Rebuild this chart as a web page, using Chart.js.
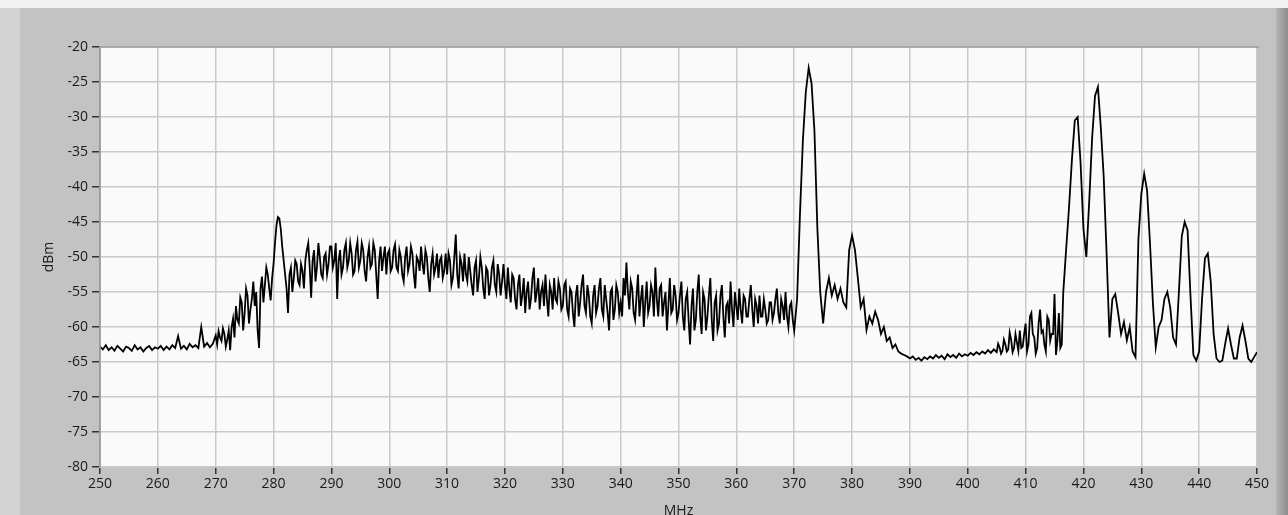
<!DOCTYPE html>
<html lang="en">
<head>
<meta charset="UTF-8">
<title>Spectrum</title>
<script src="https://cdn.jsdelivr.net/npm/chart.js"></script>
<style>
  html, body { margin: 0; padding: 0; background: #f2f2f2; overflow: hidden; }
  #frame { position: absolute; left: 0; top: 8px; width: 1288px; height: 515px; background: #c3c3c3; }
  #leftStrip { position: absolute; left: 0; top: 8px; width: 20px; height: 515px; background: #d3d3d3; }
  #rightStrip { position: absolute; left: 1276px; top: 8px; width: 12px; height: 515px;
                background: linear-gradient(to right, #b4b4b4, #8e8e8e); }
  #wrap { position: absolute; left: 0; top: 0; width: 1288px; height: 522px; }
</style>
</head>
<body>
<div id="frame"></div>
<div id="leftStrip"></div>
<div id="rightStrip"></div>
<div id="wrap"><canvas id="spec"></canvas></div>

<script>
// spectrum samples, 0.5 MHz apart starting at 250 MHz
const startMHz = 250;
const stepMHz = 0.5;

// 250 - 299.5 MHz
const band250 = [
  -62.8,-63.2,-62.6,-63.3,-62.9,-63.4,-62.7,-63.1,-63.5,-62.8,-63.0,-63.4,-62.6,-63.2,-62.9,-63.5,-63.0,-62.7,-63.3,-62.9,
  -63.1,-62.7,-63.3,-62.8,-63.2,-62.6,-63.0,-61.3,-63.1,-62.7,-63.2,-62.4,-62.9,-62.6,-63.0,-60.0,-62.8,-62.3,-62.9,-62.4,
  -61.2,-60.6,-62.0,-61.0,-61.8,-63.3,-58.8,-57.0,-59.5,-56.5,-58.0,-55.5,-57.5,-53.5,-55.0,-63.0,-52.8,-54.0,-52.5,-56.2,
  -51.0,-45.5,-44.5,-48.5,-52.5,-58.0,-51.5,-53.0,-51.0,-54.0,-52.0,-50.5,-48.0,-55.8,-49.0,-51.5,-50.0,-53.0,-49.5,-51.0,
  -48.5,-50.5,-56.0,-49.0,-51.5,-48.0,-50.5,-49.5,-52.0,-47.8,-50.5,-49.0,-53.5,-48.5,-51.0,-49.0,-56.0,-48.5,-50.0,-52.5
];

// 300 - 349.5 MHz
const band300 = [
  -49.0,-51.5,-48.2,-52.0,-50.0,-53.5,-48.5,-51.0,-49.5,-54.5,-50.5,-48.5,-52.5,-50.0,-55.0,-49.5,-51.5,-53.0,-50.0,-52.0,
  -52.5,-50.5,-53.0,-46.8,-54.5,-51.0,-49.5,-53.5,-52.0,-55.5,-50.5,-53.0,-51.5,-56.0,-52.0,-54.0,-50.5,-55.0,-52.5,-53.5,
  -54.0,-51.5,-56.5,-53.0,-57.5,-52.5,-55.5,-58.0,-53.5,-56.0,-51.5,-55.0,-57.5,-54.0,-52.5,-58.5,-55.0,-53.0,-56.5,-54.5,
  -57.0,-53.5,-58.5,-55.0,-60.0,-54.0,-56.5,-52.5,-58.0,-55.5,-59.5,-54.0,-57.0,-53.0,-58.5,-56.0,-60.5,-54.5,-57.5,-55.0,
  -56.5,-53.0,-50.8,-57.5,-54.5,-59.0,-52.5,-56.0,-60.0,-53.5,-57.0,-55.0,-51.5,-58.5,-54.0,-56.5,-60.5,-53.0,-57.5,-55.5
];

// 350 - 399.5 MHz
const band350 = [
  -58.0,-53.5,-60.5,-55.0,-62.5,-54.5,-59.0,-52.5,-61.0,-56.0,-58.5,-53.0,-62.0,-55.5,-59.5,-54.0,-61.5,-56.5,-53.5,-60.0,
  -57.0,-54.5,-59.5,-56.0,-58.5,-54.0,-60.0,-57.0,-55.5,-58.5,-57.5,-59.0,-56.5,-58.0,-54.5,-59.5,-57.0,-55.0,-60.0,-56.5,
  -60.5,-56.0,-43.8,-33.4,-26.5,-23.0,-25.2,-32.0,-45.8,-55.0,-59.5,-55.0,-53.0,-55.5,-54.0,-56.0,-54.5,-56.5,-57.2,-49.0,
  -46.9,-49.0,-53.0,-57.2,-56.0,-60.4,-58.5,-59.5,-57.8,-59.0,-61.0,-60.0,-62.0,-61.5,-63.0,-62.5,-63.5,-63.8,-64.0,-64.2,
  -64.5,-64.2,-64.7,-64.4,-64.8,-64.3,-64.6,-64.2,-64.5,-64.0,-64.4,-64.1,-64.6,-63.9,-64.3,-64.0,-64.4,-63.8,-64.2,-63.9
];

// 400 - 450 MHz
const band400 = [
  -64.1,-63.7,-64.0,-63.6,-63.9,-63.5,-63.8,-63.3,-63.7,-63.2,-63.6,-62.9,-63.4,-62.5,-63.2,-61.8,-63.0,-62.2,-60.5,-62.8,
  -59.5,-62.5,-58.0,-61.5,-63.0,-57.5,-60.5,-63.5,-59.0,-61.0,-55.3,-62.0,-63.0,-55.2,-49.0,-43.0,-36.2,-30.5,-30.0,-36.5,
  -46.0,-50.0,-42.0,-33.0,-27.0,-25.7,-31.5,-38.5,-49.5,-61.5,-56.0,-55.3,-58.0,-61.0,-59.3,-61.9,-60.0,-63.5,-64.3,-47.5,
  -41.0,-38.1,-40.5,-48.0,-56.5,-62.9,-60.0,-59.0,-56.0,-55.0,-57.2,-61.5,-62.5,-55.0,-47.0,-45.0,-46.2,-55.5,-64.0,-64.8,
  -63.5,-56.0,-50.2,-49.5,-53.5,-61.0,-64.5,-65.0,-64.8,-62.4,-60.2,-62.5,-64.5,-64.5,-61.5,-59.8,-62.0,-64.5,-65.0,-64.3,
  -63.6
];

// extra samples in the noisy parts, halfway between the ones above
const fineStartA = 270.25;   // 270.25 - 369.75 MHz
const fineA = [
  -62.5,-61.5,-60.2,-62.8,-60.5,-60.0,-61.5,-59.0,-55.8,-60.5,-54.5,-59.5,-56.0,-57.0,-60.5,-54.5,-56.5,-51.5,-54.5,-53.0,
  -48.0,-44.3,-46.0,-50.5,-54.5,-52.5,-55.0,-50.5,-53.5,-51.0,-54.5,-49.0,-51.5,-50.5,-53.5,-48.0,-52.5,-50.0,-52.5,-48.5,
  -51.5,-48.0,-50.5,-52.5,-49.0,-51.5,-48.0,-52.5,-49.0,-51.5,-48.0,-52.0,-50.0,-51.5,-48.0,-52.5,-50.5,-52.0,-48.5,-49.5,
  -52.0,-49.0,-51.5,-49.0,-52.5,-50.0,-52.0,-48.5,-52.5,-50.0,-52.0,-51.0,-49.0,-53.0,-51.0,-52.5,-49.5,-50.5,-53.0,-49.5,
  -49.5,-54.0,-50.0,-52.5,-50.0,-53.5,-52.5,-50.0,-54.0,-51.5,-55.0,-50.0,-54.5,-51.5,-55.5,-51.5,-54.0,-51.0,-55.5,-51.0,
  -56.0,-54.5,-52.5,-56.0,-54.0,-57.0,-53.0,-55.0,-57.5,-53.0,-56.5,-53.0,-55.0,-57.0,-56.0,-54.0,-57.5,-56.0,-53.5,-57.5,
  -54.0,-57.5,-54.5,-58.0,-55.5,-58.5,-54.0,-57.0,-54.0,-58.5,-55.5,-58.0,-54.5,-57.5,-54.0,-58.0,-55.0,-59.0,-54.0,-58.0,
  -58.5,-55.5,-55.0,-53.5,-58.0,-55.5,-58.5,-54.0,-56.5,-58.0,-54.0,-58.5,-56.0,-54.5,-58.5,-55.0,-57.0,-58.0,-54.0,-59.0,
  -55.5,-58.5,-56.0,-59.0,-57.0,-60.5,-55.0,-58.5,-55.0,-60.5,-55.5,-59.0,-56.5,-60.5,-55.5,-58.5,-57.0,-59.5,-57.5,-55.0,
  -59.0,-57.5,-55.5,-58.5,-56.0,-57.5,-56.0,-59.5,-58.5,-56.0,-59.5,-56.5,-59.0,-56.0,-58.0,-56.0,-59.0,-58.5,-57.0,-59.0
];
const fineStartB = 405.25;   // 405.25 - 416.25 MHz
const fineB = [
  -62.4,-63.8,-61.8,-63.5,-60.8,-63.6,-61.0,-63.4,-63.0,-61.0,-63.5,-58.5,-61.0,-63.8,-59.5,-60.8,-62.5,-58.5,-62.0,-61.0,
  -64.0,-58.0,-62.5
];

const xTicks = { min: 250, max: 450, step: 10 };
const yTicks = { min: -80, max: -20, step: 5 };
const xTitle = 'MHz';
const yTitle = 'dBm';

const dbm = band250.concat(band300, band350, band400);
const points = dbm.map((v, i) => ({ x: startMHz + i * stepMHz, y: v }))
  .concat(fineA.map((v, i) => ({ x: fineStartA + i * stepMHz, y: v })))
  .concat(fineB.map((v, i) => ({ x: fineStartB + i * stepMHz, y: v })))
  .sort((a, b) => a.x - b.x);

const tickFont = { family: '"Open Sans", "Noto Sans", sans-serif', size: 14 };

const plotBg = {
  id: 'plotBg',
  beforeDraw(chart) {
    const { ctx, chartArea: a } = chart;
    ctx.save();
    ctx.fillStyle = '#fafafa';
    ctx.fillRect(a.left, a.top, a.width, a.height);
    ctx.restore();
  },
  afterDatasetsDraw(chart) {
    const { ctx, chartArea: a } = chart;
    ctx.save();
    ctx.strokeStyle = '#9c9c9c';
    ctx.lineWidth = 1.5;
    ctx.beginPath();
    ctx.moveTo(a.left, a.bottom);
    ctx.lineTo(a.left, a.top);
    ctx.lineTo(a.right + 2, a.top);
    ctx.stroke();
    ctx.restore();
  }
};

new Chart(document.getElementById('spec'), {
  type: 'line',
  data: {
    datasets: [{
      data: points,
      borderColor: '#000',
      borderWidth: 1.8,
      pointRadius: 0,
      tension: 0,
      fill: false
    }]
  },
  options: {
    responsive: true,
    maintainAspectRatio: false,
    animation: false,
    layout: { padding: { top: 47, right: 31, left: 0, bottom: 0 } },
    plugins: { legend: { display: false }, tooltip: { enabled: false } },
    scales: {
      x: {
        type: 'linear',
        min: xTicks.min,
        max: xTicks.max,
        afterFit(s) { s.height = 55; },
        ticks: { stepSize: xTicks.step, color: '#1a1a1a', font: tickFont, padding: 2, maxRotation: 0 },
        grid: { color: '#cacaca', lineWidth: 1.5, tickColor: '#333', tickLength: 7, tickWidth: 1.5 },
        border: { color: '#c4c4c4', width: 1 },
        title: { display: true, text: xTitle, color: '#1a1a1a', font: tickFont, padding: { top: 0, bottom: 3 } }
      },
      y: {
        min: yTicks.min,
        max: yTicks.max,
        afterFit(s) { s.width = 100; },
        ticks: { stepSize: yTicks.step, color: '#1a1a1a', font: tickFont, padding: 4 },
        grid: { color: '#cacaca', lineWidth: 1.5, tickColor: '#333', tickLength: 8, tickWidth: 1.5 },
        border: { color: '#9c9c9c', width: 1.5 },
        title: { display: true, text: yTitle, color: '#1a1a1a', font: tickFont, padding: { top: 41, bottom: 0 } }
      }
    }
  },
  plugins: [plotBg]
});
</script>
</body>
</html>
